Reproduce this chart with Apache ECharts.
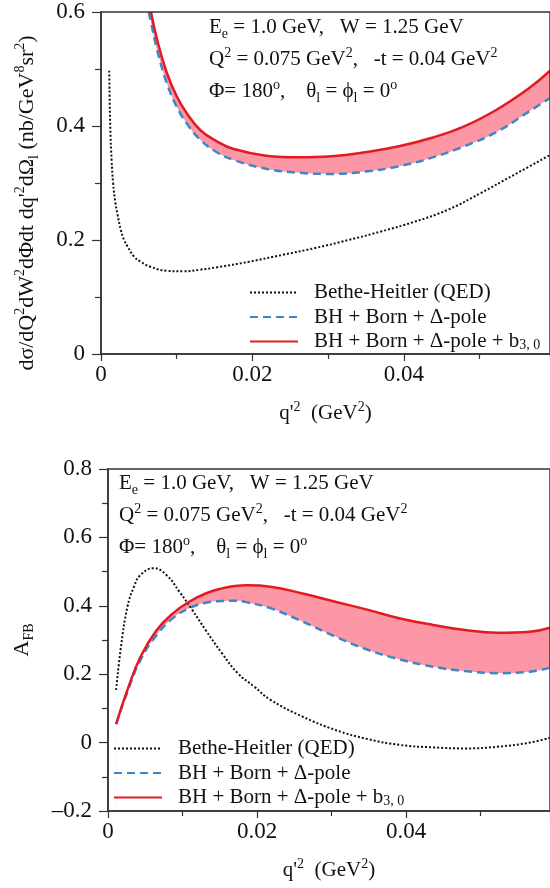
<!DOCTYPE html>
<html>
<head>
<meta charset="utf-8">
<script src="https://cdn.jsdelivr.net/npm/echarts@6/dist/echarts.min.js"></script>
<style>
  html, body { margin: 0; padding: 0; background: #fff; }
  #main { width: 550px; height: 888px; }
</style>
</head>
<body>
<div id="main"></div>
<script>
// top panel: cross section
var qBH1 = [0.00109, 0.00122, 0.0014, 0.0016, 0.0019, 0.00218, 0.00261, 0.00305, 0.00349, 0.00436, 0.00523, 0.00654, 0.00871, 0.0109, 0.0131, 0.0153, 0.0196, 0.024, 0.0283, 0.0327, 0.037, 0.0414, 0.0458, 0.0501, 0.0545, 0.0593];
var bh1 = [0.497, 0.40, 0.34, 0.30, 0.265, 0.245, 0.218, 0.200, 0.189, 0.171, 0.162, 0.153, 0.146, 0.145, 0.148, 0.152, 0.162, 0.174, 0.186, 0.200, 0.215, 0.232, 0.253, 0.282, 0.314, 0.349];

var qTop = [0.0066, 0.0074, 0.0087, 0.0100, 0.0113, 0.0131, 0.0153, 0.0174, 0.0218, 0.0261, 0.0305, 0.0349, 0.0392, 0.0436, 0.0479, 0.0523, 0.0566, 0.0593];
var redTop = [0.600, 0.552, 0.493, 0.452, 0.423, 0.393, 0.373, 0.360, 0.348, 0.345, 0.347, 0.354, 0.364, 0.379, 0.399, 0.429, 0.467, 0.497];
var blueTop = [0.582, 0.534, 0.475, 0.434, 0.405, 0.376, 0.354, 0.341, 0.325, 0.318, 0.316, 0.320, 0.329, 0.344, 0.364, 0.390, 0.426, 0.449];
var blueTopStart = [0.0063, 0.600];

// bottom panel: forward-backward asymmetry
var qBH2 = [0.00109, 0.00174, 0.00261, 0.00349, 0.00436, 0.0061, 0.00784, 0.00959, 0.0113, 0.0131, 0.0153, 0.0174, 0.0196, 0.0218, 0.0261, 0.0305, 0.0349, 0.0392, 0.0436, 0.0479, 0.0523, 0.0566, 0.0593];
var bh2 = [0.154, 0.28, 0.397, 0.456, 0.49, 0.51, 0.49, 0.441, 0.388, 0.329, 0.261, 0.203, 0.164, 0.125, 0.076, 0.037, 0.01, -0.007, -0.014, -0.017, -0.012, 0.0, 0.014];

var qBot = [0.00109, 0.00261, 0.00436, 0.00654, 0.00871, 0.0109, 0.0131, 0.0153, 0.0170, 0.0187, 0.0218, 0.0261, 0.0305, 0.0349, 0.0392, 0.0436, 0.0479, 0.0523, 0.0566, 0.0593];
var redBot = [0.054, 0.154, 0.251, 0.329, 0.378, 0.412, 0.436, 0.451, 0.458, 0.460, 0.456, 0.436, 0.412, 0.388, 0.363, 0.344, 0.329, 0.321, 0.324, 0.336];
var blueBot = [0.054, 0.149, 0.242, 0.315, 0.364, 0.393, 0.409, 0.414, 0.415, 0.410, 0.393, 0.354, 0.310, 0.271, 0.243, 0.222, 0.209, 0.203, 0.207, 0.219];

var yTicksTop = [0, 0.2, 0.4, 0.6];
var yTicksBot = [-0.2, 0, 0.2, 0.4, 0.6, 0.8];

var nameBH = 'Bethe-Heitler (QED)';
var nameBlue = 'BH + Born + Δ-pole';
var nameRed = 'BH + Born + Δ-pole + b3, 0';

var FONT = '"Liberation Serif", "DejaVu Serif", serif';
var RED = '#e31a22', BLUE = '#3f86c6', PINK = '#fc97a6', AXIS = '#333';
var SMOOTH = 0.45;

function pairs(xs, ys) {
  return xs.map(function (x, i) { return [x, ys[i]]; });
}

var rich = {
  sup: { fontFamily: FONT, fontSize: 14, lineHeight: 14, verticalAlign: 'top', color: '#111' },
  sub: { fontFamily: FONT, fontSize: 14, lineHeight: 14, verticalAlign: 'bottom', color: '#111' }
};

function fmtTick(v) {
  if (v === 0) return '0';
  if (v < 0) return '\u2013' + (-v).toFixed(1);
  return v.toFixed(1);
}

function xAxisFor(idx) {
  return {
    type: 'value', gridIndex: idx, min: 0, max: 0.0593, interval: 0.02, z: 6,
    name: "q'{sup|2}  (GeV{sup|2})", nameLocation: 'middle', nameGap: 46,
    nameTextStyle: { fontFamily: FONT, fontSize: 21, lineHeight: 27, color: '#111', rich: rich },
    axisLine: { onZero: false, lineStyle: { color: AXIS, width: 1.5 } },
    axisTick: { show: true, length: 7, lineStyle: { color: AXIS, width: 1.2 } },
    minorTick: { show: true, splitNumber: 2, length: 5, lineStyle: { color: AXIS, width: 1.2 } },
    axisLabel: {
      fontFamily: FONT, fontSize: 23, color: '#111', margin: 9,
      formatter: function (v) { return v === 0 ? '0' : v.toFixed(2); },
      showMaxLabel: false
    },
    splitLine: { show: false }
  };
}

function yAxisFor(idx, min, max, name) {
  return {
    type: 'value', gridIndex: idx, min: min, max: max, interval: 0.2, z: 6,
    name: name, nameLocation: 'middle', nameGap: 72,
    nameTextStyle: { fontFamily: FONT, fontSize: 22, lineHeight: 28, color: '#111', rich: rich },
    axisLine: { onZero: false, lineStyle: { color: AXIS, width: 1.5 } },
    axisTick: { show: true, length: 9, lineStyle: { color: AXIS, width: 1.2 } },
    minorTick: { show: true, splitNumber: 2, length: 6, lineStyle: { color: AXIS, width: 1.2 } },
    axisLabel: { fontFamily: FONT, fontSize: 23, color: '#111', margin: 16, formatter: fmtTick },
    splitLine: { show: false }
  };
}

function curve(name, data, idx, color, type, width) {
  return {
    name: name, type: 'line', xAxisIndex: idx, yAxisIndex: idx, data: data,
    showSymbol: false, symbol: 'none', smooth: SMOOTH, z: 3,
    lineStyle: { color: color, width: width, type: type }, itemStyle: { color: color }
  };
}

// band between blue and red: pink area under red, then white area under blue
function band(idx, redData, blueData) {
  return [
    { type: 'line', xAxisIndex: idx, yAxisIndex: idx, data: redData, symbol: 'none', smooth: SMOOTH,
      lineStyle: { width: 0, opacity: 0 }, areaStyle: { color: PINK, opacity: 1, origin: 'start' }, silent: true, z: 1 },
    { type: 'line', xAxisIndex: idx, yAxisIndex: idx, data: blueData, symbol: 'none', smooth: SMOOTH,
      lineStyle: { width: 0, opacity: 0 }, areaStyle: { color: '#fff', opacity: 1, origin: 'start' }, silent: true, z: 1 }
  ];
}

function annot(left, top) {
  var lines = [
    'E{sub|e} = 1.0 GeV,   W = 1.25 GeV',
    'Q{sup|2} = 0.075 GeV{sup|2},   -t = 0.04 GeV{sup|2}',
    'Φ= 180{sup|o},    θ{sub|l} = ϕ{sub|l} = 0{sup|o}'
  ];
  return lines.map(function (t, i) {
    return {
      type: 'text', left: left, top: top + i * 32, z: 10,
      style: { text: t, font: '21px ' + FONT, fill: '#111', lineHeight: 27, rich: rich }
    };
  });
}

function legendFor(left, top) {
  return {
    orient: 'vertical', left: left, top: top, itemWidth: 48, itemHeight: 12, itemGap: 3.5,
    data: [nameBH, nameBlue, nameRed], selectedMode: false,
    itemStyle: { opacity: 0 },
    textStyle: { fontFamily: FONT, fontSize: 21, color: '#111', lineHeight: 21, padding: [0, 0, 0, 11], rich: rich },
    formatter: function (n) { return n === nameRed ? 'BH + Born + Δ-pole + b{sub|3, 0}' : n; }
  };
}

var chart = echarts.init(document.getElementById('main'), null, { renderer: 'canvas' });

var series = [].concat(
  band(0, pairs(qTop, redTop), [blueTopStart].concat(pairs(qTop, blueTop))),
  band(1, pairs(qBot, redBot), pairs(qBot, blueBot)),
  [
    curve(nameBH, pairs(qBH1, bh1), 0, '#111', [2, 2], 2),
    curve(nameBlue, [blueTopStart].concat(pairs(qTop, blueTop)), 0, BLUE, [8, 5], 2.5),
    curve(nameRed, pairs(qTop, redTop), 0, RED, 'solid', 2.5),
    curve(nameBH, pairs(qBH2, bh2), 1, '#111', [2, 2], 2),
    curve(nameBlue, pairs(qBot, blueBot), 1, BLUE, [8, 5], 2.5),
    curve(nameRed, pairs(qBot, redBot), 1, RED, 'solid', 2.5)
  ]
);

chart.setOption({
  animation: false,
  backgroundColor: '#fff',
  grid: [
    { left: 101, right: -3, top: 12, bottom: 534, show: true, borderColor: AXIS, borderWidth: 1.5, z: 6 },
    { left: 101, right: -3, top: 469, bottom: 77, show: true, borderColor: AXIS, borderWidth: 1.5, z: 6 }
  ],
  xAxis: [xAxisFor(0), xAxisFor(1)],
  yAxis: [
    yAxisFor(0, yTicksTop[0], yTicksTop[yTicksTop.length - 1], ''),
    yAxisFor(1, yTicksBot[0], yTicksBot[yTicksBot.length - 1], 'A{sub|FB}')
  ],
  legend: [legendFor(244, 277), legendFor(108, 733)],
  graphic: annot(209, 14).concat(annot(119, 470)).concat([{
    type: 'text', x: 27, y: 203, rotation: Math.PI / 2, z: 10,
    style: {
      text: 'dσ/dQ{sup|2}dW{sup|2}dΦdt dq\'{sup|2}dΩ{sub|l} (nb/GeV{sup|8}sr{sup|2})',
      font: '22px ' + FONT, fill: '#111', lineHeight: 28, rich: rich,
      align: 'center', verticalAlign: 'middle'
    }
  }]),
  series: series
});
</script>
</body>
</html>
